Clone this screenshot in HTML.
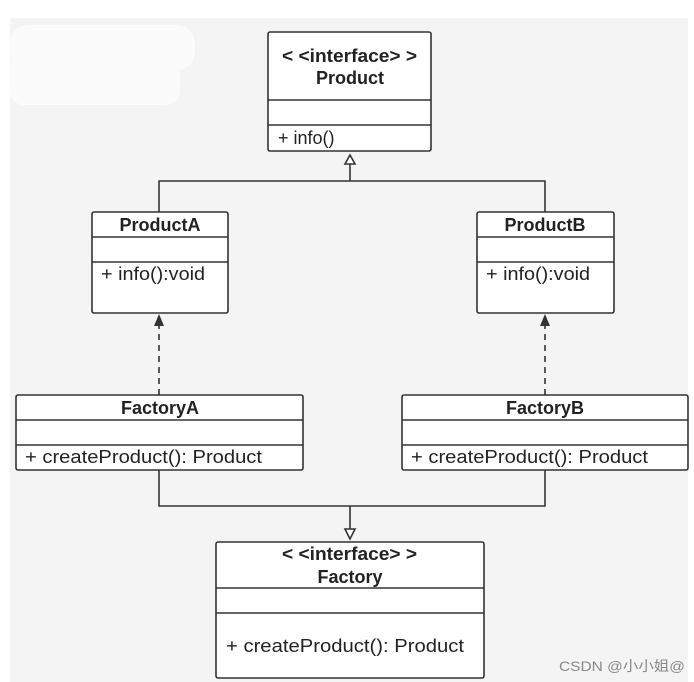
<!DOCTYPE html>
<html><head><meta charset="utf-8"><style>
html,body{margin:0;padding:0;background:#fff;width:694px;height:682px;overflow:hidden}
text{font-family:"Liberation Sans","Noto Sans CJK SC",sans-serif;fill:#222}
</style></head><body>
<svg width="694" height="682" viewBox="0 0 694 682" xmlns="http://www.w3.org/2000/svg">
<rect x="10" y="18" width="678" height="664" fill="#f4f4f4"/>
<rect x="10" y="25" width="185" height="45" rx="18" fill="#fbfbfb"/>
<rect x="10" y="55" width="170" height="50" rx="14" fill="#fbfbfb"/>
<g stroke="#333" stroke-width="1.6" fill="#fff">
<rect x="268" y="32" width="163" height="119" rx="2"/>
<line x1="268" y1="100" x2="431" y2="100"/><line x1="268" y1="125" x2="431" y2="125"/>
<rect x="92" y="212" width="136" height="101" rx="2"/>
<line x1="92" y1="237" x2="228" y2="237"/><line x1="92" y1="262" x2="228" y2="262"/>
<rect x="477" y="212" width="137" height="101" rx="2"/>
<line x1="477" y1="237" x2="614" y2="237"/><line x1="477" y1="262" x2="614" y2="262"/>
<rect x="16" y="395" width="287" height="75" rx="2"/>
<line x1="16" y1="420" x2="303" y2="420"/><line x1="16" y1="445" x2="303" y2="445"/>
<rect x="402" y="395" width="286" height="75" rx="2"/>
<line x1="402" y1="420" x2="688" y2="420"/><line x1="402" y1="445" x2="688" y2="445"/>
<rect x="216" y="542" width="268" height="136" rx="2"/>
<line x1="216" y1="588" x2="484" y2="588"/><line x1="216" y1="613" x2="484" y2="613"/>
</g>
<g stroke="#333" stroke-width="1.6" fill="none">
<polyline points="159,212 159,181 545,181 545,212"/>
<line x1="350" y1="181" x2="350" y2="164"/>
<polygon points="350,155 345,164 355,164" fill="#fff"/>
<line x1="159" y1="395" x2="159" y2="325" stroke-dasharray="6,5"/>
<line x1="545" y1="395" x2="545" y2="325" stroke-dasharray="6,5"/>
<polyline points="159,470 159,506 545,506 545,470"/>
<line x1="350" y1="506" x2="350" y2="529"/>
<polygon points="350,539 345,529 355,529" fill="#fff"/>
</g>
<polygon points="159,314 154,326 164,326" fill="#333"/>
<polygon points="545,314 540,326 550,326" fill="#333"/>
<g font-size="18">
<text x="282" y="62" textLength="135" lengthAdjust="spacingAndGlyphs" font-weight="bold">&lt; &lt;interface&gt; &gt;</text>
<text x="350" y="84" text-anchor="middle" font-weight="bold">Product</text>
<text x="278" y="144">+ info()</text>
<text x="160" y="231" text-anchor="middle" font-weight="bold">ProductA</text>
<text x="101" y="280" textLength="104" lengthAdjust="spacingAndGlyphs">+ info():void</text>
<text x="545" y="231" text-anchor="middle" font-weight="bold">ProductB</text>
<text x="486" y="280" textLength="104" lengthAdjust="spacingAndGlyphs">+ info():void</text>
<text x="160" y="414" text-anchor="middle" font-weight="bold">FactoryA</text>
<text x="25" y="463" textLength="237" lengthAdjust="spacingAndGlyphs">+ createProduct():  Product</text>
<text x="545" y="414" text-anchor="middle" font-weight="bold">FactoryB</text>
<text x="411" y="463" textLength="237" lengthAdjust="spacingAndGlyphs">+ createProduct():  Product</text>
<text x="282" y="560" textLength="135" lengthAdjust="spacingAndGlyphs" font-weight="bold">&lt; &lt;interface&gt; &gt;</text>
<text x="350" y="583" text-anchor="middle" font-weight="bold">Factory</text>
<text x="226" y="652" textLength="238" lengthAdjust="spacingAndGlyphs">+ createProduct():  Product</text>
</g>
<text x="559" y="671" font-size="14" textLength="126" lengthAdjust="spacingAndGlyphs" style="fill:#888">CSDN @小小姐@</text>
</svg>
</body></html>
